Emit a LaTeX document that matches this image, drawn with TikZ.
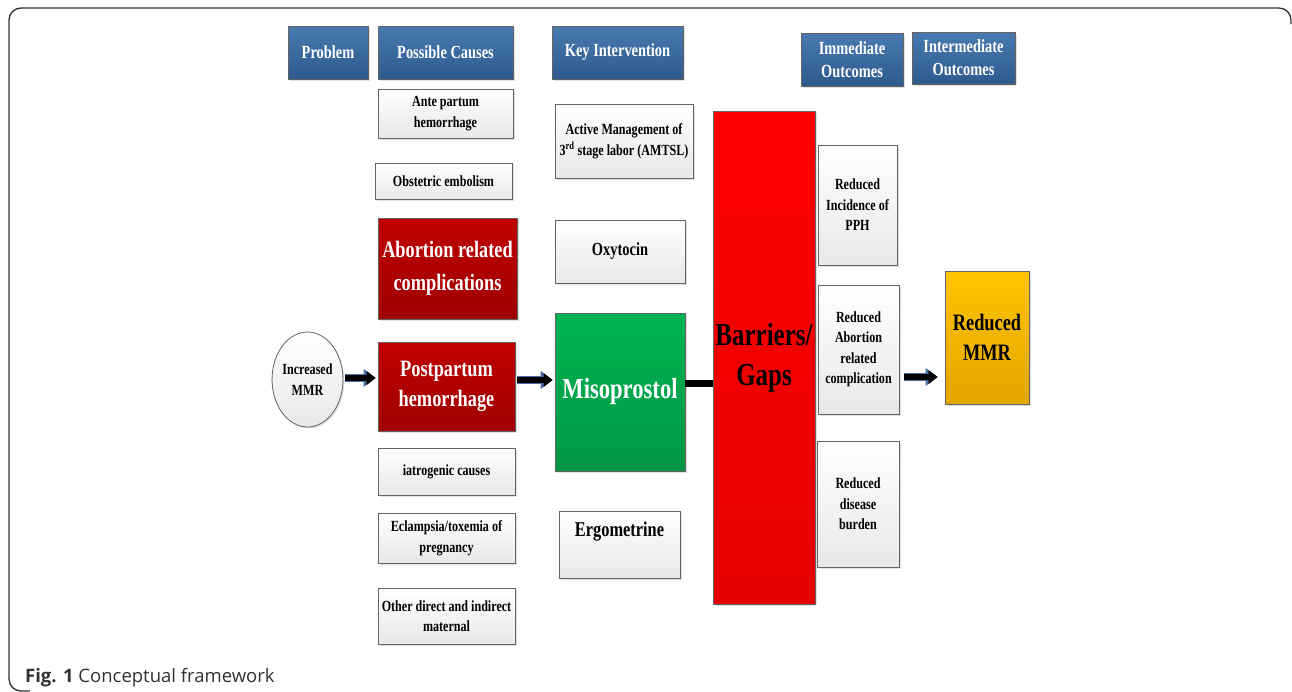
\documentclass[tikz,border=0pt]{standalone}
\usepackage{fontspec}
\setmainfont{Liberation Serif}[FakeStretch=0.78]
\newfontfamily\capfont{Open Sans}
\usepackage{tikz}
\usetikzlibrary{arrows.meta,shapes,shadows,calc}
\definecolor{hdrtop}{RGB}{72,122,176}
\definecolor{hdrbot}{RGB}{46,90,140}
\definecolor{boxgray}{RGB}{100,100,100}
\definecolor{boxlow}{RGB}{232,232,232}
\definecolor{redtop}{RGB}{192,0,0}
\definecolor{redbot}{RGB}{158,0,0}
\definecolor{greentop}{RGB}{0,180,82}
\definecolor{greenbot}{RGB}{0,150,68}
\definecolor{bartop}{RGB}{255,0,0}
\definecolor{barbot}{RGB}{228,0,0}
\definecolor{goldtop}{RGB}{255,196,0}
\definecolor{goldbot}{RGB}{226,166,0}
\definecolor{arrowblue}{RGB}{70,110,160}
\definecolor{capgray}{RGB}{50,50,50}

\begin{document}
\begin{tikzpicture}[x=1pt,y=-1pt,
    box/.style={draw=boxgray, line width=0.8pt, align=center, inner sep=1pt,
                drop shadow={opacity=0.25, shadow xshift=1.5pt, shadow yshift=-1.5pt}},
    hdr/.style={box, top color=hdrtop, bottom color=hdrbot, text=white,
                font=\bfseries\fontsize{18.5}{23}\selectfont},
    plain/.style={box, top color=white, bottom color=boxlow,
                font=\bfseries\fontsize{15.5}{20.5}\selectfont},
    blockarrow/.style={line width=6pt, black,
                -{Triangle[length=9pt,width=14pt,line width=0pt]},
                preaction={draw=arrowblue, line width=8pt,
                -{Triangle[length=12pt,width=18pt,line width=0pt]}}}]
\useasboundingbox (0,0) rectangle (1292,691);

% frame and caption
\draw[capgray, line width=1.3pt, rounded corners=12pt]
    (1291,24) |- (9,8) |- (30,691);
\node[anchor=base west, inner sep=0, text=capgray, font=\capfont\fontsize{18.5}{22}\selectfont]
    (caption) at (25,682) {\textbf{Fig. 1} Conceptual framework};

% headers
\node[hdr, minimum width=80pt, minimum height=53pt] (prob) at (328,52.5) {Problem};
\node[hdr, minimum width=135pt, minimum height=53pt] (causes) at (445.5,52.5) {Possible Causes};
\node[hdr, minimum width=131pt, minimum height=53pt] (keyint) at (617.5,52.5) {Key Intervention};
\node[hdr, minimum width=102pt, minimum height=53pt] (immed) at (852,59.5) {Immediate\\Outcomes};
\node[hdr, minimum width=103pt, minimum height=52pt] (interm) at (963.5,58) {Intermediate\\Outcomes};

% problem
\node[ellipse, draw=boxgray, line width=0.8pt, top color=white, bottom color=boxlow,
      minimum width=65pt, minimum height=95pt, inner sep=0, align=center,
      font=\bfseries\fontsize{15.5}{20.5}\selectfont,
      drop shadow={opacity=0.25, shadow xshift=1.5pt, shadow yshift=-1.5pt}]
    (mmr) at (307.5,379.5) {Increased\\MMR};

% causes
\node[plain, minimum width=135pt, minimum height=49pt] (ante) at (445.5,113.5) {Ante partum\\hemorrhage};
\node[plain, minimum width=137pt, minimum height=36pt] (embol) at (443.5,181) {Obstetric embolism};
\node[box, top color=redtop, bottom color=redbot, text=white, minimum width=139pt, minimum height=101pt,
      font=\bfseries\fontsize{23.5}{33}\selectfont] (abort) at (447.5,268.5) {Abortion related\\complications};
\node[box, top color=redtop, bottom color=redbot, text=white, minimum width=137pt, minimum height=89pt,
      font=\bfseries\fontsize{23.5}{30}\selectfont] (pph) at (446.5,386.5) {Postpartum\\hemorrhage};
\node[plain, minimum width=137pt, minimum height=47pt] (iatro) at (446.5,471.5) {iatrogenic causes};
\node[plain, minimum width=137pt, minimum height=50pt] (eclam) at (446.5,538) {Eclampsia/toxemia of\\pregnancy};
\node[plain, minimum width=137pt, minimum height=56pt] (other) at (446.5,616) {Other direct and indirect\\maternal};

% interventions
\node[plain, minimum width=138pt, minimum height=74pt] (amtsl) at (624,141)
    {Active Management of\\3\textsuperscript{rd} stage labor (AMTSL)};
\node[plain, minimum width=130pt, minimum height=63pt, font=\bfseries\fontsize{18.5}{22}\selectfont]
    (oxy) at (620,251.5) {Oxytocin};
\node[box, top color=greentop, bottom color=greenbot, text=white, minimum width=130pt, minimum height=158pt,
      font=\bfseries\fontsize{29}{34}\selectfont] (miso) at (620,392) {Misoprostol};
\node[plain, minimum width=121pt, minimum height=67pt, font=\bfseries\fontsize{21}{25}\selectfont]
    (ergo) at (619.5,544.5) {\raisebox{30pt}{Ergometrine}};

% barriers
\node[box, top color=bartop, bottom color=barbot, minimum width=102pt, minimum height=493pt,
      font=\bfseries\fontsize{32}{40}\selectfont] (barr) at (764,357.5) {Barriers/\\Gaps};

% outcomes
\node[plain, minimum width=79pt, minimum height=120pt] (redpph) at (857.5,205) {Reduced\\Incidence of\\PPH};
\node[plain, minimum width=81pt, minimum height=129pt] (redabort) at (858.5,349.5)
    {Reduced\\Abortion\\related\\complication};
\node[plain, minimum width=82pt, minimum height=126pt] (reddis) at (858,504) {Reduced\\disease\\burden};
\node[box, top color=goldtop, bottom color=goldbot, minimum width=84pt, minimum height=133pt,
      font=\bfseries\fontsize{23.5}{30}\selectfont] (redmmr) at (987,337.5) {Reduced\\MMR};

% connectors
\coordinate (rowA) at (0,378);
\coordinate (rowB) at (0,380);
\coordinate (rowC) at (0,383);
\coordinate (rowD) at (0,377);
\draw[blockarrow, shorten <=2pt, shorten >=2pt] (mmr.east |- rowA) -- (pph.west |- rowA);
\draw[blockarrow, shorten <=2pt, shorten >=2pt] (pph.east |- rowB) -- (miso.west |- rowB);
\draw[line width=7pt, black] (miso.east |- rowC) -- (barr.west |- rowC);
\draw[blockarrow, shorten <=5pt, shorten >=7pt] (redabort.east |- rowD) -- (redmmr.west |- rowD);
\end{tikzpicture}
\end{document}
